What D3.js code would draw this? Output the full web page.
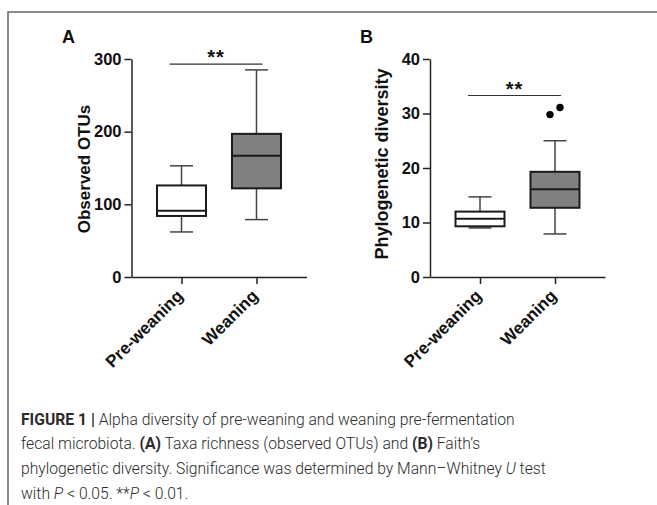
<!DOCTYPE html>
<html>
<head>
<meta charset="utf-8">
<script src="https://cdn.jsdelivr.net/npm/d3@7"></script>
<style>
  body { margin: 0; background: #fff; }
  .axis path, .axis line { stroke: #222; stroke-width: 1.5px; }
  .axis text { font-family: "Liberation Sans", Arial, sans-serif; font-weight: bold; font-size: 16.5px; fill: #111; }
  .caption { font-family: Roboto, "Liberation Sans", sans-serif; font-weight: 300; font-size: 15.7px; fill: #2b2b2b; }
</style>
</head>
<body>
<div class="figure"></div>
<script>
// box plot summaries
var groups = ["Pre-weaning", "Weaning"];

// panel A: observed OTUs
var otuMin    = [62, 79];
var otuQ1     = [84, 122];
var otuMedian = [91, 167];
var otuQ3     = [126, 197];
var otuMax    = [153, 285];
var otuOutliers = [];
var otuTicks  = [0, 100, 200, 300];

// panel B: Faith's phylogenetic diversity
var pdMin    = [9.0, 7.9];
var pdQ1     = [9.3, 12.7];
var pdMedian = [10.7, 16.1];
var pdQ3     = [12.0, 19.3];
var pdMax    = [14.7, 25.0];
var pdOutliers = [{group: "Weaning", value: 29.8}, {group: "Weaning", value: 31.1}];
var pdTicks  = [0, 10, 20, 30, 40];

var boxFill = ["#ffffff", "#808080"];

var svg = d3.select(".figure").append("svg").attr("width", 657).attr("height", 505);

// frame lines
svg.append("path")
    .attr("d", "M8,505 V12 H657")
    .attr("fill", "none")
    .attr("stroke", "#666")
    .attr("stroke-width", 1.5);

function drawPanel(opt) {
    var left = opt.left,
        top = 59, bottom = 277,
        g = svg.append("g");

    var x = d3.scalePoint().domain(groups).range([left, left + 175]).padding(0.667);
    var y = d3.scaleLinear().domain([0, opt.ticks[opt.ticks.length - 1]]).range([bottom, top]);

    // whiskers
    groups.forEach(function(grp, i) {
        var cx = x(grp);
        var w = g.append("g").attr("stroke", "#444").attr("stroke-width", 1.5);
        w.append("line").attr("x1", cx).attr("x2", cx).attr("y1", y(opt.min[i])).attr("y2", y(opt.q1[i]));
        w.append("line").attr("x1", cx).attr("x2", cx).attr("y1", y(opt.q3[i])).attr("y2", y(opt.max[i]));
        w.append("line").attr("x1", cx - 11.5).attr("x2", cx + 11.5).attr("y1", y(opt.min[i])).attr("y2", y(opt.min[i]));
        w.append("line").attr("x1", cx - 11.5).attr("x2", cx + 11.5).attr("y1", y(opt.max[i])).attr("y2", y(opt.max[i]));

        g.append("rect")
            .attr("x", cx - 24.5)
            .attr("width", 49)
            .attr("y", y(opt.q3[i]))
            .attr("height", y(opt.q1[i]) - y(opt.q3[i]))
            .attr("fill", boxFill[i])
            .attr("stroke", "#1a1a1a")
            .attr("stroke-width", 2);
        g.append("line")
            .attr("x1", cx - 24.5).attr("x2", cx + 24.5)
            .attr("y1", y(opt.median[i])).attr("y2", y(opt.median[i]))
            .attr("stroke", "#1a1a1a").attr("stroke-width", 2);
    });

    // outliers, nudged sideways so they don't overlap
    g.selectAll(".outlier")
        .data(opt.outliers)
        .enter().append("circle")
          .attr("class", "outlier")
          .attr("cx", (d, i) => x(d.group) + (i === 0 ? -5 : 5))
          .attr("cy", d => y(d.value))
          .attr("r", 3.7)
          .attr("fill", "#000");

    // axes
    g.append("g")
        .attr("class", "axis")
        .attr("transform", `translate(${left},0)`)
        .call(d3.axisLeft(y).tickValues(opt.ticks).tickSize(7).tickSizeOuter(0).tickPadding(3));

    var xa = g.append("g")
        .attr("class", "axis")
        .attr("transform", `translate(0,${bottom})`)
        .call(d3.axisBottom(x).tickSize(7).tickSizeOuter(0));
    xa.selectAll("text")
        .attr("x", 0).attr("y", 0).attr("dy", 0)
        .attr("text-anchor", "end")
        .style("font-size", "17px")
        .attr("transform", "translate(2,20) rotate(-45)");

    // y label
    g.append("text")
        .attr("transform", `translate(${opt.labelX},${opt.labelY}) rotate(-90)`)
        .attr("text-anchor", "middle")
        .style("font-family", "'Liberation Sans', Arial, sans-serif")
        .style("font-weight", "bold")
        .style("font-size", opt.labelSize + "px")
        .attr("fill", "#111")
        .text(opt.label);

    // panel letter
    g.append("text")
        .attr("x", opt.letterX).attr("y", 43)
        .style("font-family", "'Liberation Sans', Arial, sans-serif")
        .style("font-weight", "bold")
        .style("font-size", "18px")
        .attr("fill", "#111")
        .text(opt.letter);

    // significance bracket
    var sy = y(opt.sig);
    g.append("line")
        .attr("x1", x(groups[0]) - 12).attr("x2", x(groups[1]) + 6)
        .attr("y1", sy).attr("y2", sy)
        .attr("stroke", "#333").attr("stroke-width", 1.2);
    g.append("text")
        .attr("x", (x(groups[0]) + x(groups[1])) / 2 - 3)
        .attr("y", sy)
        .attr("text-anchor", "middle")
        .style("font-family", "'Liberation Sans', Arial, sans-serif")
        .style("font-weight", "bold")
        .style("font-size", "20px")
        .style("letter-spacing", "1px")
        .attr("fill", "#111")
        .text("**");
}

drawPanel({left: 131.5, letter: "A", letterX: 62, label: "Observed OTUs", labelX: 90, labelY: 169, labelSize: 17,
           ticks: otuTicks, min: otuMin, q1: otuQ1, median: otuMedian, q3: otuQ3, max: otuMax,
           outliers: otuOutliers, sig: 293});
drawPanel({left: 430, letter: "B", letterX: 360, label: "Phylogenetic diversity", labelX: 388, labelY: 164, labelSize: 18,
           ticks: pdTicks, min: pdMin, q1: pdQ1, median: pdMedian, q3: pdQ3, max: pdMax,
           outliers: pdOutliers, sig: 33.3});

// caption
var captionLines = [
    [["FIGURE 1 | ", "b"], ["Alpha diversity of pre-weaning and weaning pre-fermentation", ""]],
    [["fecal microbiota. ", ""], ["(A)", "b"], [" Taxa richness (observed OTUs) and ", ""], ["(B)", "b"], [" Faith\u2019s", ""]],
    [["phylogenetic diversity. Significance was determined by Mann\u2013Whitney ", ""], ["U", "i"], [" test", ""]],
    [["with ", ""], ["P", "i"], [" < 0.05. **", ""], ["P", "i"], [" < 0.01.", ""]]
];
var cap = svg.append("g").attr("class", "caption");
captionLines.forEach(function(line, i) {
    var t = cap.append("text").attr("x", 21).attr("y", 424.5 + i * 24.7);
    line.forEach(function(part) {
        t.append("tspan")
            .style("font-weight", part[1] === "b" ? "bold" : null)
            .style("font-style", part[1] === "i" ? "italic" : null)
            .text(part[0]);
    });
});
</script>
</body>
</html>
